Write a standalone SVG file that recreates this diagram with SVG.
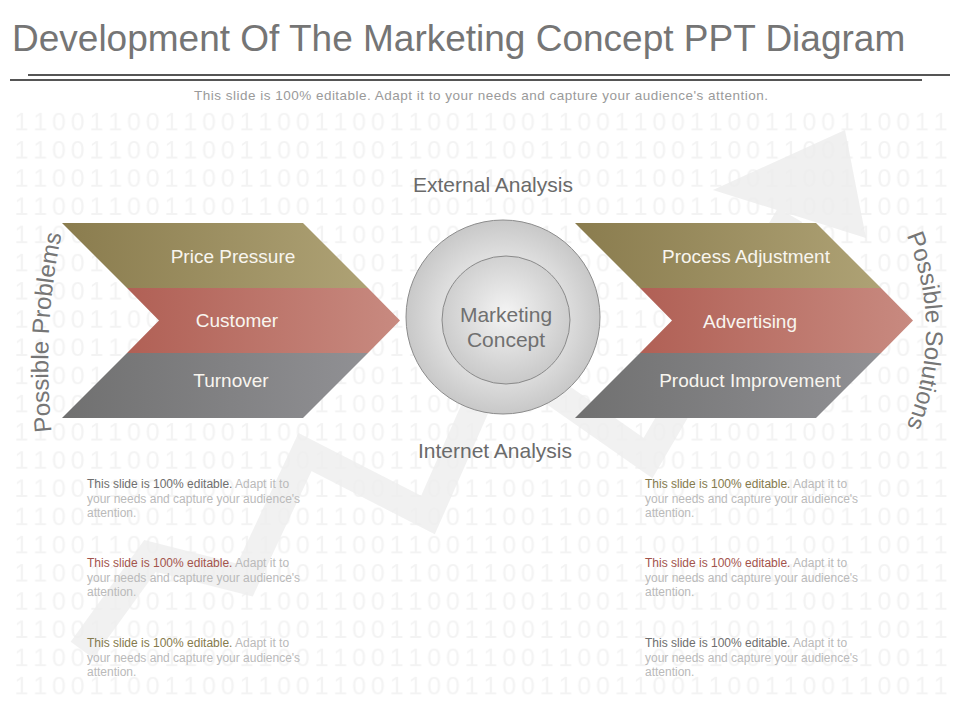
<svg xmlns="http://www.w3.org/2000/svg" width="960" height="720" viewBox="0 0 960 720">
  <defs>
    <style>
      .bin { font-family: "Liberation Sans", Arial, sans-serif; font-size: 25px; fill: #f3f3f3; }
      .title { font-family: "Liberation Sans", Arial, sans-serif; font-size: 37px; fill: #757575; }
      .sub { font-family: "Liberation Sans", Arial, sans-serif; font-size: 13.5px; fill: #9a9a9a; }
      .lbl { font-family: "Liberation Sans", Arial, sans-serif; font-size: 19px; fill: #f8f5ef; text-anchor: middle; }
      .ana { font-family: "Liberation Sans", Arial, sans-serif; font-size: 21px; fill: #6a6a6a; text-anchor: middle; }
      .ctr { font-family: "Liberation Sans", Arial, sans-serif; font-size: 21px; fill: #707070; text-anchor: middle; }
      .side { font-family: "Liberation Sans", Arial, sans-serif; font-size: 24px; fill: #767676; }
      .note { font-family: "Liberation Sans", Arial, sans-serif; font-size: 12px; fill: #bababa; }
      .gray { fill: #6e6e6e; }
      .red { fill: #a3544c; }
      .olive { fill: #857a4c; }
      .rule { stroke: #555555; stroke-width: 2; }
    </style>
    <pattern id="binary" patternUnits="userSpaceOnUse" x="12" y="108" width="75.04" height="28.2">
      <text class="bin" x="2.4 21.16 39.92 58.68" y="22">1100</text>
    </pattern>
    <linearGradient id="gOliveL" gradientUnits="userSpaceOnUse" x1="62" y1="0" x2="400" y2="0">
      <stop offset="0" stop-color="#8a7c4e"/><stop offset="1" stop-color="#b2a679"/>
    </linearGradient>
    <linearGradient id="gRedL" gradientUnits="userSpaceOnUse" x1="62" y1="0" x2="400" y2="0">
      <stop offset="0" stop-color="#ab564b"/><stop offset="1" stop-color="#c88a80"/>
    </linearGradient>
    <linearGradient id="gGrayL" gradientUnits="userSpaceOnUse" x1="62" y1="0" x2="400" y2="0">
      <stop offset="0" stop-color="#707070"/><stop offset="1" stop-color="#949498"/>
    </linearGradient>
    <linearGradient id="gOliveR" gradientUnits="userSpaceOnUse" x1="575" y1="0" x2="913" y2="0">
      <stop offset="0" stop-color="#8a7c4e"/><stop offset="1" stop-color="#b2a679"/>
    </linearGradient>
    <linearGradient id="gRedR" gradientUnits="userSpaceOnUse" x1="575" y1="0" x2="913" y2="0">
      <stop offset="0" stop-color="#ab564b"/><stop offset="1" stop-color="#c88a80"/>
    </linearGradient>
    <linearGradient id="gGrayR" gradientUnits="userSpaceOnUse" x1="575" y1="0" x2="913" y2="0">
      <stop offset="0" stop-color="#707070"/><stop offset="1" stop-color="#949498"/>
    </linearGradient>
    <radialGradient id="gOuter" cx="0.5" cy="0.5" r="0.5">
      <stop offset="0" stop-color="#f2f2f2"/><stop offset="0.65" stop-color="#dedede"/><stop offset="1" stop-color="#c8c8c8"/>
    </radialGradient>
    <radialGradient id="gInner" cx="0.5" cy="0.45" r="0.55">
      <stop offset="0" stop-color="#f4f4f4"/><stop offset="1" stop-color="#c9c9c9"/>
    </radialGradient>
    <path id="arcLeft" d="M 54 452 Q 38 330 66 214"/>
    <path id="arcRight" d="M 898 216 Q 954 330 898 446"/>
  </defs>

  <rect x="0" y="0" width="960" height="720" fill="#ffffff"/>

  <g id="background-digits">
    <rect x="12" y="108" width="938" height="592" fill="url(#binary)"/>
  </g>

  <g id="trend-arrow" opacity="0.8">
    <polyline points="82,650 150,556 245,580 305,452 428,515 499,354 648,458 790,215" fill="none" stroke="#ededed" stroke-width="28" stroke-linejoin="miter" stroke-miterlimit="10"/>
    <polygon points="845,130 713,190 866,238" fill="#ededed"/>
  </g>

  <g id="header">
    <text class="title" x="12" y="51">Development  Of The Marketing Concept PPT Diagram</text>
    <line class="rule" x1="28" y1="75" x2="950" y2="75"/>
    <line class="rule" x1="10" y1="80" x2="922" y2="80"/>
    <text class="sub" x="194" y="100" textLength="574">This slide is 100% editable. Adapt it to your needs and capture your audience's attention.</text>
  </g>

  <g id="possible-problems">
    <text class="side"><textPath href="#arcLeft" startOffset="50%" text-anchor="middle">Possible Problems</textPath></text>
  </g>

  <g id="problems-chevron">
    <polygon points="62,223 303,223 368,288 127,288" fill="url(#gOliveL)"/>
    <polygon points="127,288 368,288 400,320.5 368,353 127,353 159,320.5" fill="url(#gRedL)"/>
    <polygon points="127,353 368,353 303,418 62,418" fill="url(#gGrayL)"/>
    <text class="lbl" x="233" y="263">Price Pressure</text>
    <text class="lbl" x="237" y="327">Customer</text>
    <text class="lbl" x="231" y="387">Turnover</text>
  </g>

  <g id="marketing-concept">
    <text class="ana" x="493" y="192">External Analysis</text>
    <circle cx="503" cy="317" r="97" fill="url(#gOuter)" stroke="#8c8c8c" stroke-width="1"/>
    <circle cx="506" cy="320" r="64" fill="url(#gInner)" stroke="#8a8a8a" stroke-width="1"/>
    <text class="ctr" x="506" y="322">Marketing</text>
    <text class="ctr" x="506" y="347">Concept</text>
    <text class="ana" x="495" y="458">Internet Analysis</text>
  </g>

  <g id="solutions-chevron">
    <polygon points="575,223 816,223 881,288 640,288" fill="url(#gOliveR)"/>
    <polygon points="640,288 881,288 913,320.5 881,353 640,353 672,320.5" fill="url(#gRedR)"/>
    <polygon points="640,353 881,353 816,418 575,418" fill="url(#gGrayR)"/>
    <text class="lbl" x="746" y="263">Process Adjustment</text>
    <text class="lbl" x="750" y="328">Advertising</text>
    <text class="lbl" x="750" y="387">Product Improvement</text>
  </g>

  <g id="possible-solutions">
    <text class="side"><textPath href="#arcRight" startOffset="50%" text-anchor="middle">Possible Solutions</textPath></text>
  </g>

  <g id="notes-left" class="note">
    <text x="87" y="488"><tspan class="gray">This slide is 100% editable.</tspan> Adapt it to</text>
    <text x="87" y="502.5">your needs and capture your audience's</text>
    <text x="87" y="517">attention.</text>
    <text x="87" y="567"><tspan class="red">This slide is 100% editable.</tspan> Adapt it to</text>
    <text x="87" y="581.5">your needs and capture your audience's</text>
    <text x="87" y="596">attention.</text>
    <text x="87" y="647"><tspan class="olive">This slide is 100% editable.</tspan> Adapt it to</text>
    <text x="87" y="661.5">your needs and capture your audience's</text>
    <text x="87" y="676">attention.</text>
  </g>

  <g id="notes-right" class="note">
    <text x="645" y="488"><tspan class="olive">This slide is 100% editable.</tspan> Adapt it to</text>
    <text x="645" y="502.5">your needs and capture your audience's</text>
    <text x="645" y="517">attention.</text>
    <text x="645" y="567"><tspan class="red">This slide is 100% editable.</tspan> Adapt it to</text>
    <text x="645" y="581.5">your needs and capture your audience's</text>
    <text x="645" y="596">attention.</text>
    <text x="645" y="647"><tspan class="gray">This slide is 100% editable.</tspan> Adapt it to</text>
    <text x="645" y="661.5">your needs and capture your audience's</text>
    <text x="645" y="676">attention.</text>
  </g>

  <g id="connectors"/>
</svg>
